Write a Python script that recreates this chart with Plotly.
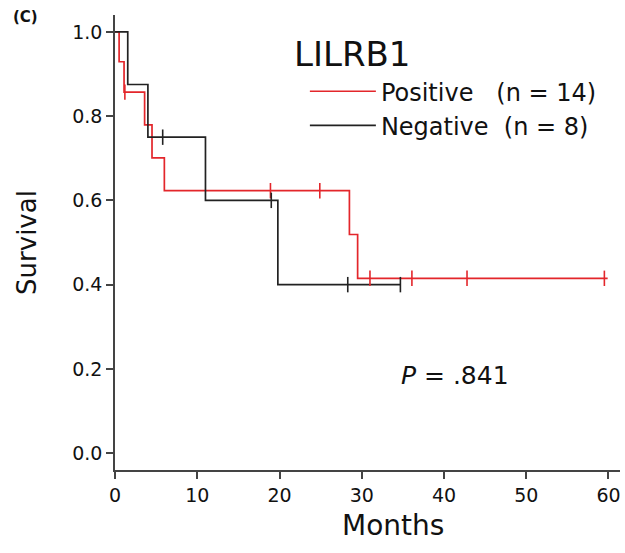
import plotly.graph_objects as go

# Kaplan-Meier step data (months, survival)
pos_times = [0, 0.5, 1.1, 3.6, 4.5, 6.0, 28.5, 29.5, 59.9]
pos_surv = [1.0, 0.929, 0.857, 0.779, 0.701, 0.623, 0.519, 0.415, 0.415]
pos_cens_t = [1.2, 18.9, 24.9, 31.0, 36.1, 42.8, 59.5]
pos_cens_s = [0.857, 0.623, 0.623, 0.415, 0.415, 0.415, 0.415]

neg_times = [0, 1.55, 4.0, 11.0, 19.8, 34.7]
neg_surv = [1.0, 0.875, 0.75, 0.6, 0.4, 0.4]
neg_cens_t = [5.8, 19.0, 28.3, 34.7]
neg_cens_s = [0.75, 0.6, 0.4, 0.4]

x_ticks = [0, 10, 20, 30, 40, 50, 60]
y_ticks = [0.0, 0.2, 0.4, 0.6, 0.8, 1.0]

RED = "#e3262b"
BLK = "#222222"
FONT = "DejaVu Sans"
SP = "\u00a0"

fig = go.Figure()
fig.add_trace(go.Scatter(x=pos_times, y=pos_surv, mode="lines", line_shape="hv",
                         line=dict(color=RED, width=1.7), name="Positive" + SP * 3 + "(n = 14)"))
fig.add_trace(go.Scatter(x=neg_times, y=neg_surv, mode="lines", line_shape="hv",
                         line=dict(color=BLK, width=1.7), name="Negative" + SP * 2 + "(n = 8)"))
fig.add_trace(go.Scatter(x=pos_cens_t, y=pos_cens_s, mode="markers", showlegend=False,
                         marker=dict(symbol="line-ns", size=11, line=dict(color=RED, width=1.6))))
fig.add_trace(go.Scatter(x=neg_cens_t, y=neg_cens_s, mode="markers", showlegend=False,
                         marker=dict(symbol="line-ns", size=11, line=dict(color=BLK, width=1.6))))

fig.update_layout(
    width=625, height=553,
    margin=dict(l=115, r=5, t=15, b=83),
    paper_bgcolor="white", plot_bgcolor="white",
    font=dict(family=FONT, color="#111"),
    showlegend=True,
    legend=dict(x=0.376, y=0.881, xanchor="left", yanchor="top", itemwidth=66,
                font=dict(size=24, family=FONT), bgcolor="rgba(0,0,0,0)",
                tracegroupgap=0),
    xaxis=dict(range=[0, 61.4], tickvals=x_ticks, ticks="outside", ticklen=7,
               tickwidth=1.5, tickcolor="#444", showline=True, linecolor="#444",
               linewidth=1.5, showgrid=False, zeroline=False,
               tickfont=dict(size=19, family=FONT)),
    yaxis=dict(range=[-0.04, 1.04], tickvals=y_ticks, tickformat=".1f", ticks="outside",
               ticklen=7, tickwidth=1.5, tickcolor="#444", showline=True, linecolor="#444",
               linewidth=1.5, showgrid=False, zeroline=False,
               tickfont=dict(size=19, family=FONT),
               title=dict(text="Survival", font=dict(size=26, family=FONT), standoff=28)),
    annotations=[
        dict(text="Months", x=0.55, y=-0.121, xref="paper", yref="paper",
             xanchor="center", yanchor="middle", showarrow=False,
             font=dict(size=28, family=FONT, color="#111")),
        dict(text="LILRB1", x=0.35, y=0.914, xref="paper", yref="paper",
             xanchor="left", yanchor="middle", showarrow=False,
             font=dict(size=34, family=FONT, color="#111")),
        dict(text="<i>P</i> = .841", x=0.562, y=0.207, xref="paper", yref="paper",
             xanchor="left", yanchor="middle", showarrow=False,
             font=dict(size=25, family=FONT, color="#111")),
        dict(text="<b>(C)</b>", x=-0.205, y=0.995, xref="paper", yref="paper",
             xanchor="left", yanchor="middle",
             showarrow=False, font=dict(size=15, family=FONT, color="#111")),
    ],
)

fig.write_html("out.html")
